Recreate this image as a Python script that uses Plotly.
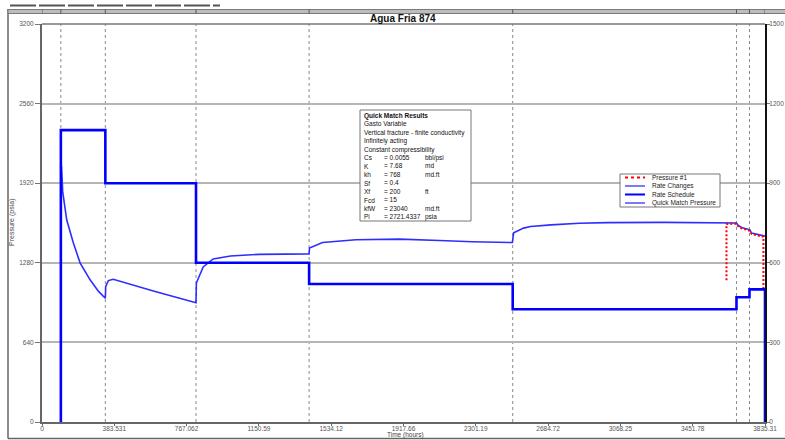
import plotly.graph_objects as go

# ---- data -------------------------------------------------------------
# Rate schedule (step function, right axis): time of each change and the new rate
rate_time = [100, 336, 817, 1417, 2497, 3684, 3753, 3835.31]
rate_value = [1100, 900, 600, 520, 425, 470, 500, 0]

# Quick match (model) pressure, left axis
qm_time = [101, 103, 110, 131, 166, 202, 255, 300, 336,
           338, 352, 378, 600, 817,
           819, 855, 908, 1000, 1150, 1300, 1417,
           1419, 1488, 1665, 1896, 2108, 2283, 2495,
           2502, 2555, 2592, 2700, 2850, 3000, 3300, 3684,
           3693, 3711, 3755, 3764, 3800, 3827, 3835]
qm_psi = [1900, 2060, 1850, 1626, 1441, 1280, 1143, 1050, 995,
          1090, 1137, 1148, 1050, 959,
          1118, 1247, 1311, 1335, 1348, 1352, 1352,
          1398, 1443, 1465, 1470, 1459, 1449, 1443,
          1521, 1559, 1572, 1585, 1598, 1603, 1605, 1600,
          1580, 1564, 1545, 1519, 1505, 1497, 1495]

# Measured pressure (Pressure #1)
p1_time = [3631, 3631, 3684, 3693, 3711, 3755, 3764, 3800, 3827, 3827]
p1_psi = [1140, 1592, 1594, 1573, 1557, 1538, 1512, 1498, 1489, 1065]

x_ticks = [0, 383.531, 767.062, 1150.59, 1534.12, 1917.66,
           2301.19, 2684.72, 3068.25, 3451.78, 3835.31]
x_labels = ["0", "383.531", "767.062", "1150.59", "1534.12", "1917.66",
            "2301.19", "2684.72", "3068.25", "3451.78", "3835.31"]
y_ticks = [0, 640, 1280, 1920, 2560, 3200]
y2_ticks = [0, 300, 600, 900, 1200, 1500]

results_names = ["Cs", "K", "kh", "Sf", "Xf", "Fcd", "kfW", "Pi"]
results_values = ["= 0.0055", "= 7.68", "= 768", "= 0.4", "= 200", "= 15",
                  "= 23040", "= 2721.4337"]
results_units = ["bbl/psi", "md", "md.ft", "", "ft", "", "md.ft", "psia"]
results_header = ["<b>Quick Match Results</b>", "Gasto Variable",
                  "Vertical fracture - finite conductivity",
                  "Infinitely acting", "Constant compressibility"]

legend_items = [("Pressure #1", "#ff0000", "dot", 2),
                ("Rate Changes", "#7a7aff", "solid", 2),
                ("Rate Schedule", "#0000ff", "solid", 2),
                ("Quick Match Pressure", "#7a7aff", "solid", 2)]

# ---- layout geometry (pixels) -----------------------------------------
W, H = 785, 440
L, R, T, B = 42, 20, 24, 18
PW, PH = W - L - R, H - T - B
FONT = "Liberation Sans, Arial, sans-serif"


def px_x(px):
    return (px - L) / PW


def px_y(py):
    return (H - B - py) / PH


fig = go.Figure()

# rate schedule starts from zero at the first change
fig.add_trace(go.Scatter(
    x=[rate_time[0]] + rate_time, y=[0] + rate_value, yaxis="y2",
    mode="lines", line=dict(color="#0000ff", width=2.6, shape="hv"),
    showlegend=False))

fig.add_trace(go.Scatter(
    x=qm_time, y=qm_psi, mode="lines",
    line=dict(color="#2e2eff", width=1.6), showlegend=False))

fig.add_trace(go.Scatter(
    x=p1_time, y=p1_psi, mode="lines",
    line=dict(color="#ff0000", width=2, dash="2px,2px"), showlegend=False))

shapes = []
# event lines at each rate change
for t in rate_time[:-1]:
    shapes.append(dict(type="line", xref="x", yref="paper", x0=t, x1=t,
                       y0=0, y1=1, layer="below",
                       line=dict(color="#8a8a8a", width=1, dash="dot")))
# top frame line of the plot area
shapes.append(dict(type="line", xref="paper", yref="paper", x0=0, x1=1,
                   y0=1, y1=1, line=dict(color="#777", width=1.5)))
# window frame: left and bottom border
shapes.append(dict(type="line", xref="paper", yref="paper",
                   x0=px_x(8), x1=px_x(8), y0=px_y(9), y1=px_y(438.5),
                   line=dict(color="#666", width=1.5)))
shapes.append(dict(type="line", xref="paper", yref="paper",
                   x0=px_x(8), x1=px_x(785), y0=px_y(438.5), y1=px_y(438.5),
                   line=dict(color="#666", width=1.5)))
# overview strip above the title
shapes.append(dict(type="rect", xref="paper", yref="paper",
                   x0=px_x(8), x1=px_x(786), y0=px_y(13.5), y1=px_y(9.5),
                   fillcolor="#bdbdbd", line=dict(color="#7a7a7a", width=1)))
for t in [0] + rate_time:
    shapes.append(dict(type="line", xref="x", yref="paper", x0=t, x1=t,
                       y0=px_y(13.5), y1=px_y(9.5),
                       line=dict(color="#555", width=1)))
shapes.append(dict(type="line", xref="paper", yref="paper",
                   x0=px_x(10), x1=px_x(220), y0=px_y(5.5), y1=px_y(5.5),
                   line=dict(color="#555", width=2, dash="26px,3px")))

# results box
shapes.append(dict(type="rect", xref="paper", yref="paper",
                   x0=px_x(360), x1=px_x(471), y0=px_y(221), y1=px_y(110),
                   fillcolor="white", line=dict(color="#777", width=1)))

# legend box and samples
shapes.append(dict(type="rect", xref="paper", yref="paper",
                   x0=px_x(620), x1=px_x(720), y0=px_y(207), y1=px_y(174),
                   fillcolor="white", line=dict(color="#777", width=1)))
legend_y = [177.5, 186, 194.5, 203]
annotations = []
for (name, col, dash, w), ly in zip(legend_items, legend_y):
    shapes.append(dict(type="line", xref="paper", yref="paper",
                       x0=px_x(625), x1=px_x(645), y0=px_y(ly), y1=px_y(ly),
                       line=dict(color=col, width=w, dash=dash)))
    annotations.append(dict(xref="paper", yref="paper", x=px_x(650),
                            y=px_y(ly), text=name, showarrow=False,
                            xanchor="left", yanchor="middle",
                            font=dict(family=FONT, size=6.5, color="#222")))

fs = 6.5
annotations += [
    dict(xref="paper", yref="paper", x=px_x(362), y=px_y(110),
         text="<br>".join(results_header + results_names), showarrow=False,
         xanchor="left", yanchor="top", align="left",
         font=dict(family=FONT, size=fs, color="#111")),
    dict(xref="paper", yref="paper", x=px_x(382), y=px_y(110 + 5 * 8.45),
         text="<br>".join(results_values), showarrow=False,
         xanchor="left", yanchor="top", align="left",
         font=dict(family=FONT, size=fs, color="#111")),
    dict(xref="paper", yref="paper", x=px_x(423), y=px_y(110 + 5 * 8.45),
         text="<br>".join(u if u else " " for u in results_units),
         showarrow=False, xanchor="left", yanchor="top", align="left",
         font=dict(family=FONT, size=fs, color="#111")),
    dict(xref="paper", yref="paper", x=px_x(403), y=px_y(18),
         text="<b>Agua Fria 874</b>", showarrow=False,
         xanchor="center", yanchor="middle",
         font=dict(family=FONT, size=10, color="#111")),
    dict(xref="paper", yref="paper", x=px_x(12), y=0.5,
         text="Pressure (psia)", textangle=-90, showarrow=False,
         xanchor="center", yanchor="middle",
         font=dict(family=FONT, size=7, color="#444")),
    dict(xref="paper", yref="paper", x=px_x(405), y=px_y(435),
         text="Time (hours)", showarrow=False,
         xanchor="center", yanchor="middle",
         font=dict(family=FONT, size=6.5, color="#444")),
]

tickfont = dict(family=FONT, size=6.5, color="#555")
fig.update_layout(
    width=W, height=H,
    margin=dict(l=L, r=R, t=T, b=B, pad=0, autoexpand=False),
    paper_bgcolor="white", plot_bgcolor="white",
    showlegend=False,
    xaxis=dict(range=[0, 3835.31], tickvals=x_ticks, ticktext=x_labels,
               automargin=False, ticklabelstandoff=-3,
               showgrid=False, zeroline=False, showline=True,
               linecolor="#666", linewidth=2, ticks="outside", ticklen=2,
               tickcolor="#666", tickfont=tickfont),
    yaxis=dict(range=[0, 3200], tickvals=y_ticks, automargin=False,
               showgrid=True, gridcolor="#b5b5b5", gridwidth=1.5,
               zeroline=False, showline=True, linecolor="#666", linewidth=2,
               ticks="outside", ticklen=5, tickcolor="#777",
               tickfont=tickfont),
    yaxis2=dict(range=[0, 1500], tickvals=y2_ticks, overlaying="y",
                side="right", showgrid=False, zeroline=False,
                automargin=False, ticklabelstandoff=-2,
                showline=True, linecolor="#111", linewidth=2,
                ticks="outside", ticklen=3, tickcolor="#777",
                tickfont=tickfont),
    shapes=shapes,
    annotations=annotations,
)

fig.write_html("out.html")
